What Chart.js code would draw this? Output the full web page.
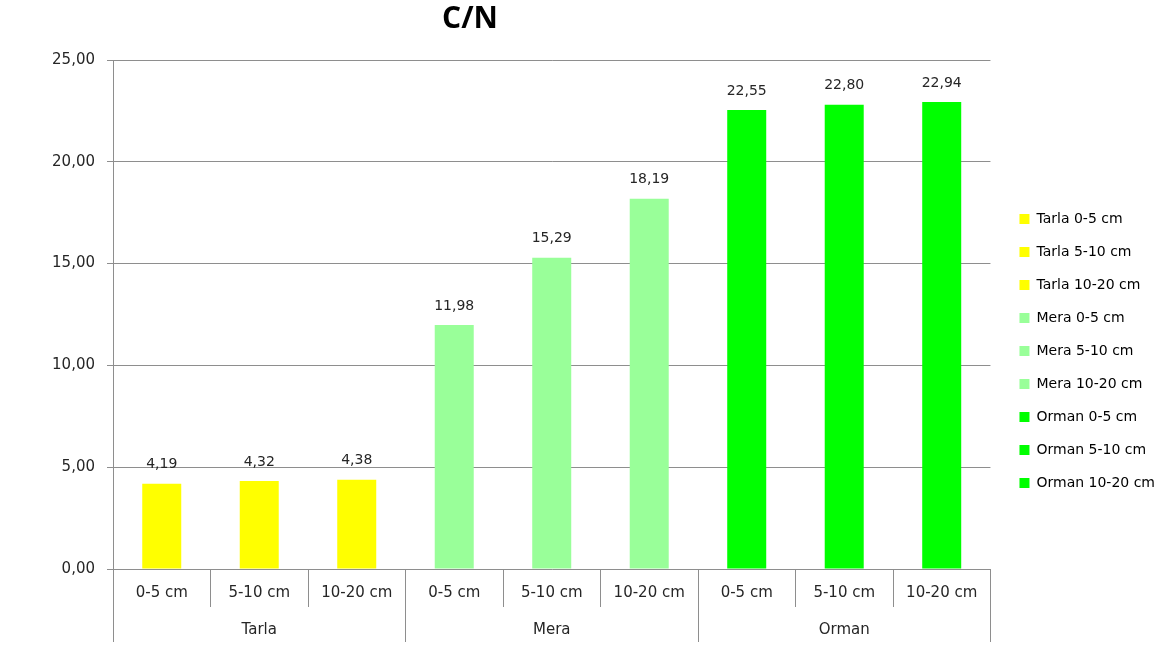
<!DOCTYPE html>
<html>
<head>
<meta charset="utf-8">
<script src="https://cdn.jsdelivr.net/npm/chart.js@4.4.1/dist/chart.umd.min.js"></script>
<style>
  html, body { margin: 0; padding: 0; background: #fff; }
  #wrap { width: 1171px; height: 662px; }
</style>
</head>
<body>
<div id="wrap"><canvas id="cn"></canvas></div>
<script>
// C/N ratio per land use and depth
const groups = ["Tarla", "Mera", "Orman"];
const depths = ["0-5 cm", "5-10 cm", "10-20 cm"];
const tarla = [4.19, 4.32, 4.38];
const mera = [11.98, 15.29, 18.19];
const orman = [22.55, 22.80, 22.94];
const groupColors = ["#ffff00", "#99ff99", "#00ff00"];

const yTicks = { min: 0, max: 25, step: 5 };

const FONT = "'DejaVu Sans', sans-serif";
const TEXT = "#262626";
const GRID = "#8e8e8e";

const values = [...tarla, ...mera, ...orman];
let labels = [];
let colors = [];
groups.forEach((g, gi) => {
  depths.forEach(d => {
    labels.push(g + " " + d);
    colors.push(groupColors[gi]);
  });
});

function comma(v) {
  return v.toFixed(2).replace(".", ",");
}

// title, value labels and the two-level category axis
const extras = {
  id: "extras",
  afterDatasetsDraw(chart) {
    const ctx = chart.ctx;
    const area = chart.chartArea;
    const x = chart.scales.x;
    const meta = chart.getDatasetMeta(0);

    ctx.save();
    ctx.fillStyle = "#000";
    ctx.font = "bold 30px 'Open Sans', sans-serif";
    ctx.textAlign = "center";
    ctx.textBaseline = "middle";
    ctx.fillText("C/N", 470, 19);

    ctx.font = "14px " + FONT;
    ctx.fillStyle = TEXT;
    meta.data.forEach((bar, i) => {
      ctx.fillText(comma(values[i]), bar.x, bar.y - 19);
    });

    const n = labels.length;
    const step = (x.right - x.left) / n;
    const base = area.bottom;
    ctx.strokeStyle = GRID;
    ctx.lineWidth = 1;
    ctx.beginPath();
    for (let i = 0; i <= n; i++) {
      const px = Math.round(x.left + i * step) + 0.5;
      const len = i % depths.length === 0 ? 73 : 38;
      ctx.moveTo(px, base);
      ctx.lineTo(px, base + len);
    }
    ctx.stroke();

    ctx.font = "15px " + FONT;
    for (let i = 0; i < n; i++) {
      ctx.fillText(depths[i % depths.length], x.getPixelForValue(i), base + 24);
    }
    groups.forEach((g, gi) => {
      const cx = x.left + (gi * depths.length + depths.length / 2) * step;
      ctx.fillText(g, cx, base + 61);
    });
    ctx.restore();
  }
};

new Chart(document.getElementById("cn"), {
  type: "bar",
  plugins: [extras],
  data: {
    labels: labels,
    datasets: [{
      label: "C/N",
      data: values,
      backgroundColor: colors,
      borderWidth: 0,
      barPercentage: 0.40,
      categoryPercentage: 1.0
    }]
  },
  options: {
    responsive: true,
    maintainAspectRatio: false,
    animation: false,
    layout: { padding: { top: 60, bottom: 20, left: 0, right: 6 } },
    plugins: {
      tooltip: { enabled: false },
      legend: {
        position: "right",
        align: "center",
        labels: {
          boxWidth: 10,
          boxHeight: 10,
          padding: 19,
          color: TEXT,
          font: { family: FONT, size: 14 },
          generateLabels: () => labels.map((l, i) => ({
            text: l,
            fillStyle: colors[i],
            strokeStyle: colors[i],
            lineWidth: 0,
            hidden: false,
            index: i
          }))
        }
      }
    },
    scales: {
      x: {
        offset: true,
        grid: { display: false },
        border: { display: false },
        ticks: { display: false },
        afterFit: (s) => { s.height = 73; }
      },
      y: {
        min: yTicks.min,
        max: yTicks.max,
        afterFit: (s) => { s.width = 113; },
        ticks: {
          stepSize: yTicks.step,
          padding: 12,
          color: TEXT,
          font: { family: FONT, size: 15 },
          callback: (v) => comma(v)
        },
        grid: { color: GRID, tickLength: 6, drawTicks: true },
        border: { display: true, color: GRID }
      },
      // empty spacer between the plot and the legend
      gap: {
        type: "linear",
        position: "right",
        display: true,
        grid: { display: false },
        border: { display: false },
        ticks: { display: false },
        afterFit: (s) => { s.width = 10; }
      }
    }
  }
});
</script>
</body>
</html>
